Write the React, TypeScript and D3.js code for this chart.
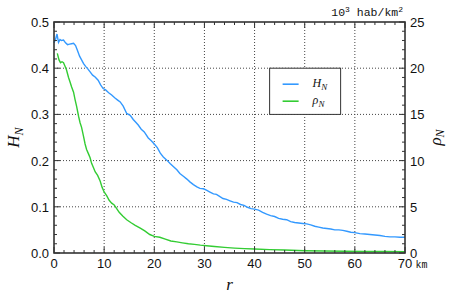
import React from 'react';
import * as d3 from 'd3';

// r in km
const hR = [0, 0.3, 0.6, 0.9, 1.2, 1.5, 1.9, 2.3, 2.7, 3.1, 3.5, 3.9, 4.3, 4.7, 5.1, 5.5, 5.9, 6.3, 6.7, 7.2, 7.7, 8.2, 8.8, 9.3, 9.8, 10.3, 10.9, 11.5, 12.1, 12.7, 13.2, 13.8, 14.5, 15.2, 15.8, 16.4, 16.8, 17.4, 18.0, 18.8, 19.4, 20.0, 20.6, 21.2, 21.8, 22.5, 23.2, 23.9, 24.5, 25.1, 25.8, 26.5, 27.1, 27.8, 28.5, 29.1, 29.8, 30.4, 31.1, 31.8, 32.4, 33.1, 33.7, 34.4, 35.1, 35.8, 36.5, 37.2, 37.9, 38.6, 39.3, 40.0, 40.8, 41.6, 42.4, 43.2, 44.0, 44.8, 45.6, 46.4, 47.2, 48.0, 48.8, 49.6, 50.4, 51.2, 52.0, 52.8, 53.6, 54.4, 55.2, 56.0, 56.8, 57.6, 58.4, 59.2, 60.0, 61, 62, 63, 64, 65, 66, 67, 68, 69, 70];
const hN = [0.455, 0.462, 0.474, 0.456, 0.462, 0.46, 0.461, 0.455, 0.451, 0.452, 0.453, 0.454, 0.449, 0.438, 0.426, 0.418, 0.41, 0.404, 0.399, 0.392, 0.385, 0.381, 0.374, 0.364, 0.356, 0.353, 0.347, 0.342, 0.336, 0.331, 0.327, 0.318, 0.302, 0.298, 0.289, 0.282, 0.277, 0.268, 0.262, 0.249, 0.243, 0.236, 0.228, 0.216, 0.208, 0.201, 0.193, 0.186, 0.18, 0.172, 0.166, 0.16, 0.154, 0.148, 0.143, 0.14, 0.139, 0.136, 0.132, 0.128, 0.127, 0.122, 0.118, 0.116, 0.113, 0.11, 0.109, 0.105, 0.103, 0.099, 0.096, 0.095, 0.093, 0.088, 0.084, 0.081, 0.079, 0.075, 0.073, 0.072, 0.068, 0.066, 0.065, 0.064, 0.063, 0.061, 0.058, 0.056, 0.054, 0.053, 0.052, 0.05, 0.05, 0.049, 0.047, 0.045, 0.044, 0.042, 0.041, 0.04, 0.039, 0.038, 0.036, 0.035, 0.035, 0.034, 0.034];

// density in 10^3 hab/km^2
const rhoR = [0.66, 1.0, 1.3, 1.6, 1.9, 2.2, 2.5, 2.9, 3.2, 3.5, 3.9, 4.2, 4.5, 4.9, 5.2, 5.5, 5.9, 6.2, 6.5, 6.9, 7.2, 7.5, 7.9, 8.2, 8.7, 9.2, 9.6, 10.0, 10.5, 11.0, 11.5, 12.0, 12.5, 13.0, 13.7, 14.5, 15.3, 16.2, 17.2, 18.1, 19.1, 20.0, 21.1, 22.2, 23.3, 24.5, 25.6, 26.8, 28.0, 29.2, 30.4, 32, 34, 36, 38, 40, 43, 46, 50, 54, 58, 62, 66, 70];
const rhoN = [21.6, 20.9, 20.6, 20.7, 20.6, 20.2, 19.8, 19.0, 18.5, 18.0, 17.4, 16.6, 15.9, 14.8, 14.1, 13.6, 12.6, 11.8, 11.2, 10.7, 10.3, 9.7, 9.2, 8.8, 8.4, 7.8, 7.1, 6.6, 6.2, 5.7, 5.4, 5.2, 4.8, 4.4, 4.0, 3.6, 3.3, 3.0, 2.7, 2.4, 2.0, 1.8, 1.7, 1.5, 1.3, 1.2, 1.1, 1.0, 0.93, 0.85, 0.79, 0.7, 0.61, 0.53, 0.47, 0.43, 0.37, 0.32, 0.25, 0.22, 0.19, 0.17, 0.16, 0.15];

const xTicks = [0, 10, 20, 30, 40, 50, 60, 70];
const hTicks = [0, 0.1, 0.2, 0.3, 0.4, 0.5];
const rhoTicks = [0, 5, 10, 15, 20, 25];

const BLUE = '#3399ff';
const GREEN = '#33cc33';
const AXIS = '#333';
const SANS = 'Liberation Sans, Arial, sans-serif';
const SERIF = 'Liberation Serif, Times New Roman, serif';
const MONO = 'Liberation Mono, Courier New, monospace';

export default function App() {
  const margin = { top: 22, right: 45, bottom: 45, left: 54 };
  const width = 450, height = 298;
  const x0 = margin.left, x1 = width - margin.right;
  const y0 = height - margin.bottom, y1 = margin.top;

  const x = d3.scaleLinear().domain([0, 70]).range([x0, x1]);
  const yH = d3.scaleLinear().domain([0, 0.5]).range([y0, y1]);
  const yR = d3.scaleLinear().domain([0, 25]).range([y0, y1]);

  const hLine = d3.line<number>().x((_, i) => x(hR[i])).y(d => yH(d));
  const rLine = d3.line<number>().x((_, i) => x(rhoR[i])).y(d => yR(d));

  const xMinor = d3.range(0, 70.01, 2);
  const hMinor = d3.range(0, 0.501, 0.02);
  const rMinor = d3.range(0, 25.01, 1);

  const legX = x(43), legY = yH(0.4);

  return (
    <svg width={width} height={height} style={{ position: 'absolute', left: 0, top: 0, background: '#fff' }}>
      {/* grid */}
      <g stroke="#444" strokeWidth={1} strokeDasharray="1,2">
        {xTicks.slice(1, -1).map(t => (
          <line key={'gx' + t} x1={x(t)} x2={x(t)} y1={y0} y2={y1} />
        ))}
        {hTicks.slice(1, -1).map(t => (
          <line key={'gy' + t} x1={x0} x2={x1} y1={yH(t)} y2={yH(t)} />
        ))}
      </g>

      {/* curves */}
      <path d={rLine(rhoN) || ''} fill="none" stroke={GREEN} strokeWidth={1.4} />
      <path d={hLine(hN) || ''} fill="none" stroke={BLUE} strokeWidth={1.4} />

      {/* ticks */}
      <g stroke={AXIS} strokeWidth={1}>
        {xMinor.map(t => {
          const major = Math.abs(t % 10) < 1e-6;
          const l = major ? 6 : 3;
          return (
            <g key={'xt' + t}>
              <line x1={x(t)} x2={x(t)} y1={y0} y2={y0 - l} />
              <line x1={x(t)} x2={x(t)} y1={y1} y2={y1 + l} />
            </g>
          );
        })}
        {hMinor.map((t, i) => {
          const l = i % 5 === 0 ? 6 : 3;
          return <line key={'ht' + i} x1={x0} x2={x0 + l} y1={yH(t)} y2={yH(t)} />;
        })}
        {rMinor.map((t, i) => {
          const l = i % 5 === 0 ? 6 : 3;
          return <line key={'rt' + i} x1={x1} x2={x1 - l} y1={yR(t)} y2={yR(t)} />;
        })}
      </g>

      {/* frame */}
      <rect x={x0} y={y1} width={x1 - x0} height={y0 - y1} fill="none" stroke={AXIS} strokeWidth={1.6} />

      {/* tick labels */}
      <g fontFamily={SANS} fontSize={13} fill="#111">
        {xTicks.map(t => (
          <text key={'xl' + t} x={x(t)} y={y0 + 15} textAnchor="middle">{t}</text>
        ))}
        {hTicks.map(t => (
          <text key={'hl' + t} x={x0 - 5} y={yH(t) + 5} textAnchor="end">{t.toFixed(1)}</text>
        ))}
        {rhoTicks.map(t => (
          <text key={'rl' + t} x={x1 + 5} y={yR(t) + 5} textAnchor="start">{t}</text>
        ))}
      </g>
      <text x={x1 + 10.5} y={y0 + 15} fontFamily={MONO} fontSize={10} fill="#111">km</text>
      <text x={x1 - 2} y={16} textAnchor="end" fontFamily={MONO} fontSize={11.5} fill="#111">
        10<tspan dy={-4} fontSize={8}>3</tspan><tspan dy={4}> hab/km</tspan><tspan dy={-4} fontSize={8}>2</tspan>
      </text>

      {/* axis titles */}
      <text x={x((0 + 70) / 2)} y={290} textAnchor="middle" fontFamily={SERIF} fontStyle="italic" fontSize={17} fill="#111">r</text>
      <text transform={`translate(19,${(y0 + y1) / 2}) rotate(-90)`} textAnchor="middle" fontFamily={SERIF} fontStyle="italic" fontSize={17} fill="#111">
        H<tspan dy={4} fontSize={12}>N</tspan>
      </text>
      <text transform={`translate(441,${(y0 + y1) / 2}) rotate(-90)`} textAnchor="middle" fontFamily={SERIF} fontStyle="italic" fontSize={17} fill="#111">
        ρ<tspan dy={3} fontSize={12}>N</tspan>
      </text>

      {/* legend */}
      <rect x={legX} y={legY} width={71} height={yH(0.3) - legY} fill="#fff" stroke={AXIS} strokeWidth={1} />
      <line x1={legX + 13} x2={legX + 29} y1={legY + 16} y2={legY + 16} stroke={BLUE} strokeWidth={1.6} />
      <line x1={legX + 13} x2={legX + 29} y1={legY + 33} y2={legY + 33} stroke={GREEN} strokeWidth={1.6} />
      <g fontFamily={SERIF} fontStyle="italic" fontSize={12} fill="#111">
        <text x={legX + 43} y={legY + 19}>H<tspan dy={3} fontSize={9}>N</tspan></text>
        <text x={legX + 43} y={legY + 36}>ρ<tspan dy={3} fontSize={9}>N</tspan></text>
      </g>
    </svg>
  );
}
